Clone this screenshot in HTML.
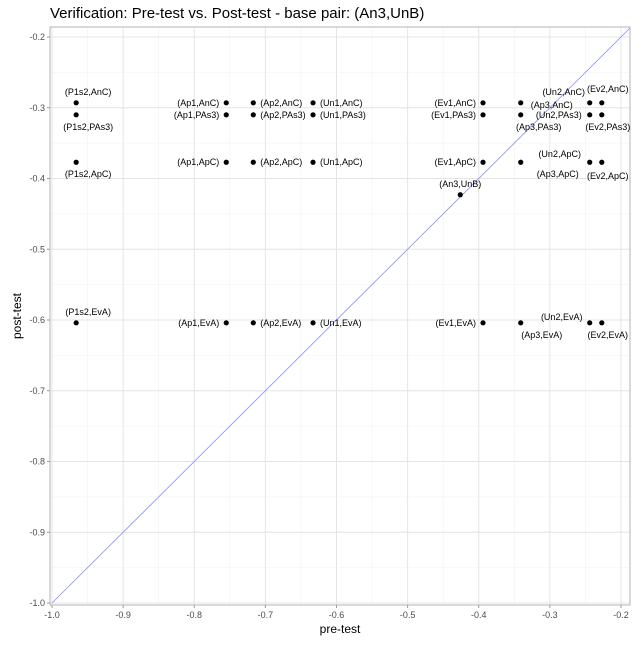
<!DOCTYPE html>
<html><head><meta charset="utf-8"><style>
body{margin:0;background:#fff;font-family:"Liberation Sans",sans-serif}
</style></head><body>
<svg id="c" width="640" height="640" xmlns="http://www.w3.org/2000/svg" font-family="Liberation Sans, sans-serif">
<text x="50" y="18" font-size="15" fill="#000">Verification: Pre-test vs. Post-test - base pair: (An3,UnB)</text>
<g id="grid"></g><g id="marks"></g>
<text x="340" y="633" font-size="12" text-anchor="middle">pre-test</text>
<text transform="translate(21,316) rotate(-90)" font-size="12" text-anchor="middle">post-test</text>
</svg>
<script>
const names=["P1s2,AnC","P1s2,PAs3","P1s2,ApC","P1s2,EvA","Ap1,AnC","Ap1,PAs3","Ap1,ApC","Ap1,EvA","Ap2,AnC","Ap2,PAs3","Ap2,ApC","Ap2,EvA","Un1,AnC","Un1,PAs3","Un1,ApC","Un1,EvA","Ev1,AnC","Ev1,PAs3","Ev1,ApC","Ev1,EvA","Ap3,AnC","Ap3,PAs3","Ap3,ApC","Ap3,EvA","Un2,AnC","Un2,PAs3","Un2,ApC","Un2,EvA","Ev2,AnC","Ev2,PAs3","Ev2,ApC","Ev2,EvA","An3,UnB"];
const preX=[-0.966,-0.966,-0.966,-0.966,-0.755,-0.755,-0.755,-0.755,-0.717,-0.717,-0.717,-0.717,-0.633,-0.633,-0.633,-0.633,-0.394,-0.394,-0.394,-0.394,-0.341,-0.341,-0.341,-0.341,-0.244,-0.244,-0.244,-0.244,-0.227,-0.227,-0.227,-0.227,-0.426];
const postY=[-0.293,-0.310,-0.377,-0.604,-0.293,-0.310,-0.377,-0.604,-0.293,-0.310,-0.377,-0.604,-0.293,-0.310,-0.377,-0.604,-0.293,-0.310,-0.377,-0.604,-0.293,-0.310,-0.377,-0.604,-0.293,-0.310,-0.377,-0.604,-0.293,-0.310,-0.377,-0.604,-0.423];
const xTicks=[-1.0,-0.9,-0.8,-0.7,-0.6,-0.5,-0.4,-0.3,-0.2];
const yTicks=[-1.0,-0.9,-0.8,-0.7,-0.6,-0.5,-0.4,-0.3,-0.2];
// label offsets (px) and anchor: layout only
const lab=[[12,-11,"m"],[12,12,"m"],[12,12,"m"],[12,-11,"m"],[-7,0,"e"],[-7,0,"e"],[-7,0,"e"],[-7,0,"e"],[7,0,"s"],[7,0,"s"],[7,0,"s"],[7,0,"s"],[7,0,"s"],[7,0,"s"],[7,0,"s"],[7,0,"s"],[-7,0,"e"],[-7,0,"e"],[-7,0,"e"],[-7,0,"e"],[10,2,"s"],[18,12,"m"],[37,12,"m"],[21,12,"m"],[-26,-11,"m"],[-8,0,"e"],[-30,-8,"m"],[-28,-6,"m"],[6,-14,"m"],[6,12,"m"],[6,14,"m"],[6,12,"m"],[0,-11,"m"]];
const L=50,R=630,T=27,B=605;
const sx=v=>52+(v+1)*711.25, sy=v=>37+(-0.2-v)*707.5;
const NS="http://www.w3.org/2000/svg";
function mk(p,t,a){const e=document.createElementNS(NS,t);for(const k in a)e.setAttribute(k,a[k]);p.appendChild(e);return e;}
const g=document.getElementById('grid'),m=document.getElementById('marks');
mk(g,'rect',{x:L,y:T,width:R-L,height:B-T,fill:'#fff'});
for(let i=0;i<xTicks.length;i++){const v=xTicks[i];
 const mv=v-0.05; if(sx(mv)>L){const l=mk(g,'line',{x1:sx(mv),x2:sx(mv),y1:T,y2:B,stroke:'#f0f0f0','stroke-width':0.6});}
 mk(g,'line',{x1:sx(v),x2:sx(v),y1:T,y2:B,stroke:'#e4e4e4','stroke-width':1});
 mk(g,'line',{x1:sx(v),x2:sx(v),y1:B,y2:B+3,stroke:'#999'});
 const t=mk(g,'text',{x:sx(v),y:B+13,'font-size':9,'text-anchor':'middle',fill:'#4d4d4d'});t.textContent=v.toFixed(1);
 
 }
for(let i=0;i<yTicks.length;i++){const v=yTicks[i];
 const mv=v+0.05; if(sy(mv)>T){mk(g,'line',{x1:L,x2:R,y1:sy(mv),y2:sy(mv),stroke:'#f0f0f0','stroke-width':0.6});}
 mk(g,'line',{x1:L,x2:R,y1:sy(v),y2:sy(v),stroke:'#e4e4e4','stroke-width':1});
 mk(g,'line',{x1:L-3,x2:L,y1:sy(v),y2:sy(v),stroke:'#999'});
 const t=mk(g,'text',{x:L-5,y:sy(v)+3,'font-size':9,'text-anchor':'end',fill:'#4d4d4d'});t.textContent=v.toFixed(1);
 
 }
mk(g,'rect',{x:L,y:T,width:R-L,height:B-T,fill:'none',stroke:'#b3b3b3','stroke-width':1});
const dl=mk(m,'line',{x1:sx(-1.0),y1:sy(-1.0),x2:sx(-0.188),y2:sy(-0.188),stroke:'#8a8aff','stroke-width':0.8});


for(let i=0;i<names.length;i++){const x=sx(preX[i]),y=sy(postY[i]);
 const c=mk(m,'circle',{cx:x,cy:y,r:2.6,fill:'#000'});
 
 
 const o=lab[i];const t=mk(m,'text',{x:x+o[0],y:y+o[1]+3,'font-size':9,fill:'#000','text-anchor':o[2]=='m'?'middle':o[2]=='e'?'end':'start'});
 t.textContent='('+names[i]+')';
 
 }
</script>
</body></html>
